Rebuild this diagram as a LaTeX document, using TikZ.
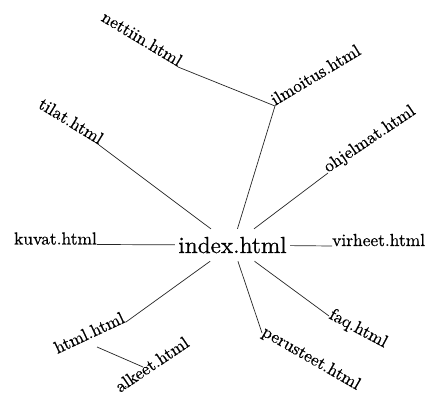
\documentclass[tikz,border=0pt]{standalone}
\usepackage{fontspec}
\newfontfamily\sitefont{lmroman10-regular.otf}[FakeBold=0.6]
\usetikzlibrary{positioning}

\begin{document}
\begin{tikzpicture}[x=1pt,y=1pt]
      \tikzstyle{root}=[inner sep=0pt,minimum width=115pt,minimum height=32pt,
        font=\sitefont\fontsize{23.2pt}{24pt}\selectfont]
      \tikzstyle{page}=[inner sep=0pt,font=\sitefont\fontsize{17.4pt}{18pt}\selectfont]
      \tikzstyle{link}=[line width=0.7pt,black!85]

      \fill[white] (0,0) rectangle (425,396);
      \useasboundingbox (0,0) rectangle (425,396);

      \node[root,anchor=base] (index) at (232.5,143) {index.html};

      \node[page,anchor=base east] (kuvat) at (97,151.5) {kuvat.html};
      \node[page,anchor=base west] (virheet) at (332,150) {virheet.html};
      \node[page,anchor=base west,rotate=34] (ohjelmat) at (328,223) {ohjelmat.html};
      \node[page,anchor=base west,rotate=31] (ilmoitus) at (275,290) {ilmoitus.html};
      \node[page,anchor=base east,rotate=-31] (nettiin) at (178,329) {nettiin.html};
      \node[page,anchor=base east,rotate=-31.5] (tilat) at (99,251) {tilat.html};
      \node[page,anchor=base east,rotate=25] (html) at (126,74) {html.html};
      \node[page,anchor=base west,rotate=34] (alkeet) at (120,3) {alkeet.html};
      \node[page,anchor=mid west,rotate=-28] (faq) at (329,80) {faq.html};
      \node[page,anchor=mid west,rotate=-30] (perusteet) at (262,63) {perusteet.html};

      \draw[link] (index) -- (kuvat.base east);
      \draw[link] (index) -- (virheet.base west);
      \draw[link] (index) -- (ohjelmat.base west);
      \draw[link] (index) -- (ilmoitus.base west);
      \draw[link] (ilmoitus.base west) -- (nettiin.base east);
      \draw[link] (index) -- (tilat.base east);
      \draw[link] (index) -- (html.base east);
      \draw[link] (index) -- (faq.mid west);
      \draw[link] (index) -- (perusteet.mid west);
      \draw[link] ([shift={(-29,-25)}]html.base east)
           -- ([shift={(23,26)}]alkeet.base west);

\end{tikzpicture}
\end{document}
